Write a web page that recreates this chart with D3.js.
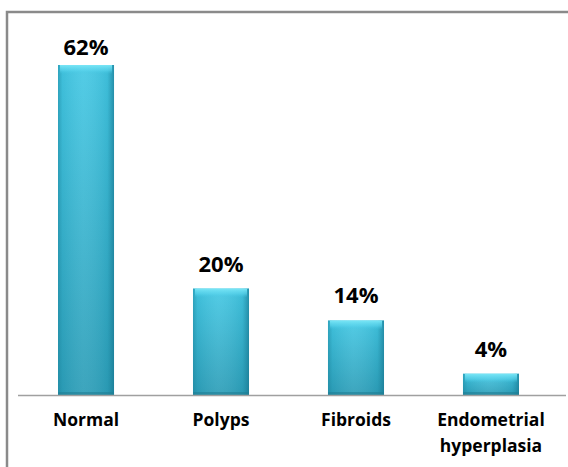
<!DOCTYPE html>
<html><head><meta charset="utf-8">
<script src="https://cdn.jsdelivr.net/npm/d3@7"></script>
<style>html,body{margin:0;padding:0;background:#fff;}svg{display:block;}</style>
</head><body>
<script>
const categories = ["Normal", "Polyps", "Fibroids", "Endometrial\nhyperplasia"];
const values = [62, 20, 14, 4];
const valueLabels = ["62%", "20%", "14%", "4%"];

const W = 568, H = 467;
const svg = d3.select("body").append("svg").attr("width", W).attr("height", H);
const defs = svg.append("defs");

const vg = defs.append("linearGradient").attr("id","vg").attr("x1",0).attr("y1",0).attr("x2",0).attr("y2",1);
vg.append("stop").attr("offset","0%").attr("stop-color","#44c8e4");
vg.append("stop").attr("offset","100%").attr("stop-color","#2c9db7");
const hg = defs.append("linearGradient").attr("id","hg").attr("x1",0).attr("y1",0).attr("x2",1).attr("y2",0);
hg.append("stop").attr("offset","0%").attr("stop-color","#1a7f97").attr("stop-opacity",0.5);
hg.append("stop").attr("offset","8%").attr("stop-color","#1a7f97").attr("stop-opacity",0.12);
hg.append("stop").attr("offset","45%").attr("stop-color","#ffffff").attr("stop-opacity",0.08);
hg.append("stop").attr("offset","88%").attr("stop-color","#1a7f97").attr("stop-opacity",0.15);
hg.append("stop").attr("offset","100%").attr("stop-color","#15708a").attr("stop-opacity",0.65);
const tg = defs.append("linearGradient").attr("id","tg").attr("x1",0).attr("y1",0).attr("x2",0).attr("y2",1);
tg.append("stop").attr("offset","0%").attr("stop-color","#7ae6f6");
tg.append("stop").attr("offset","60%").attr("stop-color","#5cd6ee").attr("stop-opacity",0.6);
tg.append("stop").attr("offset","100%").attr("stop-color","#42c6e2").attr("stop-opacity",0);

// frame
svg.append("path").attr("d","M7,467 V12 H568").attr("fill","none").attr("stroke","#8a8a8a").attr("stroke-width",2.5);

const baseY = 395;
const x = d3.scaleBand().domain(categories).range([18, 559]).paddingInner(0.585).paddingOuter(0.2963);
const y = d3.scaleLinear().domain([0, 62]).range([baseY, 65]);

const g = svg.append("g");
const bars = g.selectAll("g.bar").data(values).enter().append("g");
bars.append("rect").attr("x",(d,i)=>x(categories[i])).attr("y",d=>y(d)).attr("width",x.bandwidth()).attr("height",d=>baseY-y(d)).attr("fill","url(#vg)");
bars.append("rect").attr("x",(d,i)=>x(categories[i])).attr("y",d=>y(d)).attr("width",x.bandwidth()).attr("height",d=>baseY-y(d)).attr("fill","url(#hg)");
bars.append("rect").attr("x",(d,i)=>x(categories[i])+2).attr("y",d=>y(d)).attr("width",x.bandwidth()-4).attr("height",d=>Math.min(9,(baseY-y(d))/2)).attr("fill","url(#tg)");
bars.append("rect").attr("x",(d,i)=>x(categories[i])).attr("y",d=>baseY-3).attr("width",x.bandwidth()).attr("height",3).attr("fill","#1f7f95").attr("opacity",0.6);

// axis line
svg.append("line").attr("x1",18).attr("x2",566).attr("y1",baseY+0.5).attr("y2",baseY+0.5).attr("stroke","#a0a0a0").attr("stroke-width",1.5);

// value labels
g.selectAll("text.v").data(values).enter().append("text")
  .attr("x",(d,i)=>x(categories[i])+x.bandwidth()/2).attr("y",d=>Math.max(y(d)-17, 55))
  .attr("text-anchor","middle").attr("font-family","Open Sans, Lato, sans-serif").attr("font-weight","bold")
  .attr("font-size",22).attr("fill","#000").text((d,i)=>valueLabels[i]);

// category labels
const cl = g.selectAll("text.c").data(categories).enter().append("text")
  .attr("text-anchor","middle").attr("font-family","Open Sans, Lato, sans-serif").attr("font-weight","bold")
  .attr("font-size",17.5).attr("fill","#000");
cl.each(function(d){
  const lines = d.split("\n");
  const cx = x(d)+x.bandwidth()/2;
  lines.forEach((ln,j)=>{
    d3.select(this).append("tspan").attr("x",cx).attr("y",426+j*26).text(ln);
  });
});
</script>
</body></html>
